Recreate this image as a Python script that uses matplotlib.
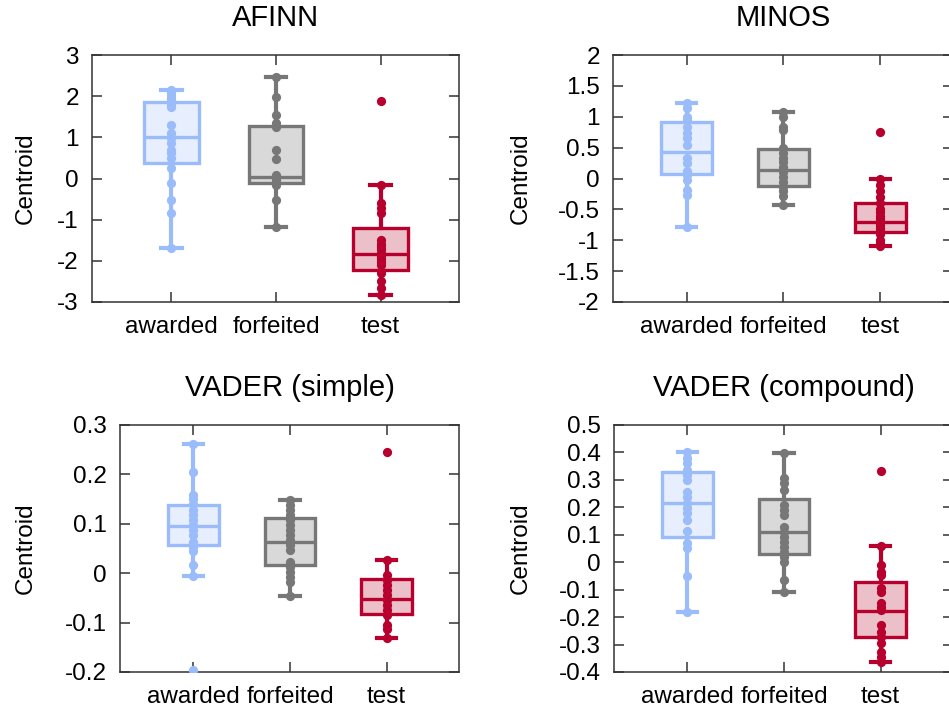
import matplotlib
matplotlib.use("Agg")
import matplotlib.pyplot as plt

plt.rcParams['font.family'] = ['Liberation Sans', 'DejaVu Sans']
plt.rcParams['font.size'] = 17.5

groups = ['awarded', 'forfeited', 'test']
line_colors = ['#9bbcfa', '#777777', '#b8002e']
fill_colors = ['#e7eefd', '#d9d9d9', '#ebc0c9']

# box stats per group: [whisker low, q1, median, q3, whisker high]
afinn_box = [[-1.70, 0.37, 1.02, 1.85, 2.15],
             [-1.17, -0.12, 0.04, 1.28, 2.46],
             [-2.83, -2.22, -1.84, -1.21, -0.17]]
afinn_pts = [[2.15, 2.1, 2.03, 1.95, 1.91, 1.8, 1.74, 1.30, 1.10, 1.02, 0.98, 0.86, 0.70, 0.61, 0.49, 0.25, -0.12, -0.52, -0.85, -1.70],
             [2.46, 1.99, 1.54, 1.35, 1.24, 0.69, 0.47, 0.08, 0.02, -0.03, -0.08, -0.12, -0.15, -0.52, -1.17],
             [1.88, -0.17, -0.60, -0.72, -0.85, -1.50, -1.58, -1.65, -1.72, -1.80, -1.88, -1.95, -2.02, -2.10, -2.30, -2.50, -2.66, -2.83]]

minos_box = [[-0.78, 0.07, 0.43, 0.91, 1.23],
             [-0.43, -0.12, 0.13, 0.48, 1.07],
             [-1.10, -0.87, -0.70, -0.39, -0.01]]
minos_pts = [[1.23, 1.14, 1.00, 0.95, 0.83, 0.73, 0.65, 0.54, 0.33, 0.25, 0.12, 0.05, -0.02, -0.19, -0.27, -0.78],
             [1.07, 0.99, 0.83, 0.78, 0.49, 0.41, 0.33, 0.27, 0.19, 0.11, 0.03, -0.05, -0.13, -0.21, -0.29, -0.43],
             [0.75, -0.01, -0.10, -0.20, -0.30, -0.40, -0.50, -0.55, -0.60, -0.65, -0.70, -0.75, -0.80, -0.85, -0.90, -1.00, -1.05, -1.10]]

vsimple_box = [[-0.005, 0.057, 0.096, 0.138, 0.261],
               [-0.046, 0.017, 0.064, 0.111, 0.148],
               [-0.132, -0.083, -0.052, -0.012, 0.027]]
vsimple_pts = [[0.261, 0.204, 0.158, 0.151, 0.141, 0.128, 0.118, 0.108, 0.098, 0.087, 0.077, 0.064, 0.054, 0.044, 0.017, -0.005, -0.195],
               [0.148, 0.138, 0.128, 0.118, 0.108, 0.098, 0.087, 0.077, 0.067, 0.057, 0.047, 0.023, 0.013, 0.003, -0.007, -0.017, -0.046],
               [0.245, 0.027, -0.004, -0.014, -0.024, -0.034, -0.044, -0.054, -0.064, -0.074, -0.085, -0.105, -0.112, -0.132]]

vcomp_box = [[-0.18, 0.091, 0.217, 0.33, 0.40],
             [-0.107, 0.03, 0.109, 0.229, 0.397],
             [-0.363, -0.271, -0.177, -0.071, 0.059]]
vcomp_pts = [[0.40, 0.38, 0.36, 0.336, 0.318, 0.30, 0.257, 0.239, 0.215, 0.197, 0.178, 0.154, 0.115, 0.069, 0.051, -0.049, -0.18],
             [0.397, 0.306, 0.288, 0.263, 0.208, 0.19, 0.172, 0.13, 0.111, 0.093, 0.075, 0.056, 0.038, 0.02, 0.002, -0.065, -0.107],
             [0.334, 0.059, -0.01, -0.034, -0.046, -0.095, -0.107, -0.15, -0.162, -0.174, -0.229, -0.253, -0.271, -0.296, -0.326, -0.344, -0.363]]

panels = [
    ('AFINN', afinn_box, afinn_pts, (-3, 3), [-3, -2, -1, 0, 1, 2, 3], ['-3', '-2', '-1', '0', '1', '2', '3'],
     [92, 459, 55, 302], 37),
    ('MINOS', minos_box, minos_pts, (-2, 2), [-2, -1.5, -1, -0.5, 0, 0.5, 1, 1.5, 2],
     ['-2', '-1.5', '-1', '-0.5', '0', '0.5', '1', '1.5', '2'], [613, 953, 55, 302], 532),
    ('VADER (simple)', vsimple_box, vsimple_pts, (-0.2, 0.3), [-0.2, -0.1, 0, 0.1, 0.2, 0.3],
     ['-0.2', '-0.1', '0', '0.1', '0.2', '0.3'], [120, 459, 425, 672], 37),
    ('VADER (compound)', vcomp_box, vcomp_pts, (-0.4, 0.5), [-0.4, -0.3, -0.2, -0.1, 0, 0.1, 0.2, 0.3, 0.4, 0.5],
     ['-0.4', '-0.3', '-0.2', '-0.1', '0', '0.1', '0.2', '0.3', '0.4', '0.5'], [614, 953, 425, 672], 532),
]

W, H = 949, 713
fig = plt.figure(figsize=(W / 100, H / 100), dpi=100)

for title, boxes, pts, ylim, yt, ytl, (l, r, t, b), lab_x in panels:
    ax = fig.add_axes([l / W, 1 - b / H, (r - l) / W, (b - t) / H])
    for i, (bx, p) in enumerate(zip(boxes, pts)):
        st = {'whislo': bx[0], 'q1': bx[1], 'med': bx[2], 'q3': bx[3], 'whishi': bx[4], 'fliers': []}
        c = line_colors[i]
        ax.bxp([st], positions=[i + 1], widths=0.52, capwidths=0.2, patch_artist=True,
               showfliers=False,
               boxprops=dict(facecolor=fill_colors[i], edgecolor=c, linewidth=2.4),
               medianprops=dict(color=c, linewidth=2.4),
               whiskerprops=dict(color=c, linewidth=3),
               capprops=dict(color=c, linewidth=3))
        ax.scatter([i + 1] * len(p), p, s=44, color=c, zorder=4, linewidths=0)
    ax.set_xlim(0.24, 3.75)
    ax.set_ylim(*ylim)
    ax.set_yticks(yt)
    ax.set_yticklabels(ytl)
    ax.set_xticks([1, 2, 3])
    ax.set_xticklabels(groups)
    ax.tick_params(direction='in', top=True, right=True, length=7, width=1.1, color='#333333')
    ax.tick_params(axis='x', pad=10)
    ax.tick_params(axis='y', pad=9.5)
    for s in ax.spines.values():
        s.set_linewidth(1.1)
        s.set_color('#333333')
    ax.set_title(title, y=1.0, pad=21)
    ax.set_ylabel('Centroid')
    ax.yaxis.set_label_coords((lab_x - l) / (r - l), 0.5)

fig.savefig('out.png', dpi=100)
